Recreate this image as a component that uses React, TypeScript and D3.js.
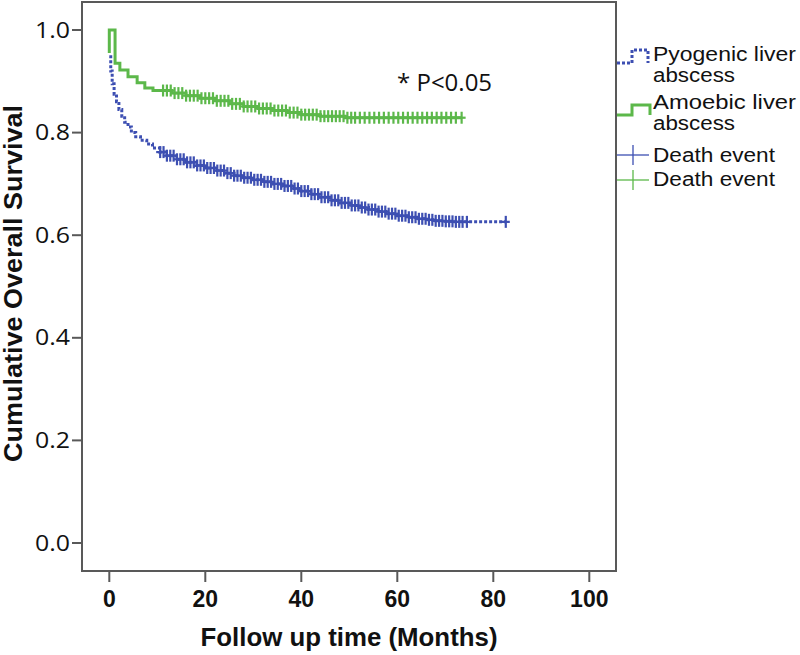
import React from "react";
import * as d3 from "d3";

// Kaplan-Meier step data (time in months, cumulative survival)
const pyoTimes = [0, 0.3, 0.6, 1.0, 1.5, 2.0, 2.6, 3.2, 3.9, 4.6, 5.5, 6.5, 7.8, 9.0, 10.5, 12, 14, 16, 18, 20, 22, 24, 26, 28, 30, 32, 34, 36, 38, 40, 42, 44, 46, 48, 50, 52, 54, 56, 58, 60, 62, 64, 66, 68, 70, 72, 82.6];
const pyoSurv = [0.948, 0.92, 0.895, 0.875, 0.86, 0.845, 0.832, 0.82, 0.811, 0.8, 0.792, 0.785, 0.778, 0.77, 0.762, 0.755, 0.748, 0.742, 0.736, 0.731, 0.726, 0.721, 0.716, 0.712, 0.708, 0.704, 0.7, 0.696, 0.691, 0.686, 0.68, 0.674, 0.668, 0.663, 0.658, 0.654, 0.65, 0.646, 0.642, 0.638, 0.635, 0.632, 0.63, 0.628, 0.627, 0.626, 0.626];

const amoTimes = [0, 0, 1.2, 2.2, 3.9, 5.8, 7.4, 9.1, 13, 16, 19, 22, 25, 28, 31, 34, 37, 40, 44, 49, 73.4];
const amoSurv = [0.955, 1.0, 0.935, 0.922, 0.909, 0.897, 0.887, 0.882, 0.877, 0.872, 0.867, 0.862, 0.856, 0.851, 0.847, 0.843, 0.839, 0.835, 0.832, 0.829, 0.829];

// censoring times (death event marks)
const pyoCensor = [10.6, 11.3, 12, 12.7, 13.4, 14.1, 14.8, 15.5, 16.2, 16.9, 17.6, 18.3, 19, 19.7, 20.4, 21.1, 21.8, 22.5, 23.2, 23.9, 24.6, 25.3, 26, 26.7, 27.4, 28.1, 28.8, 29.5, 30.2, 30.9, 31.6, 32.3, 33, 33.7, 34.4, 35.1, 35.8, 36.5, 37.2, 37.9, 38.6, 39.3, 40, 40.7, 41.4, 42.1, 42.8, 43.5, 44.2, 44.9, 45.6, 46.3, 47, 47.7, 48.4, 49.1, 49.8, 50.5, 51.2, 51.9, 52.6, 53.3, 54, 54.7, 55.4, 56.1, 56.8, 57.5, 58.2, 58.9, 59.6, 60.3, 61, 61.7, 62.4, 63.1, 63.8, 64.5, 65.2, 65.9, 66.6, 67.3, 68, 68.7, 69.4, 70.1, 70.8, 71.5, 72.2, 72.9, 73.6, 74.5, 82.6];
const amoCensor = [11.2, 12, 12.8, 13.6, 14.4, 15.2, 16, 16.8, 17.6, 18.4, 19.2, 20, 20.8, 21.6, 22.4, 23.2, 24, 24.8, 25.6, 26.4, 27.2, 28, 28.8, 29.6, 30.4, 31.2, 32, 32.8, 33.6, 34.4, 35.2, 36, 36.8, 37.6, 38.4, 39.2, 40, 40.8, 41.6, 42.4, 43.2, 44, 44.8, 45.6, 46.4, 47.2, 48, 48.8, 49.6, 50.4, 51.2, 52.2, 53.2, 54.2, 55.2, 56.2, 57.2, 58.2, 59.2, 60.2, 61.2, 62.2, 63.2, 64.2, 65.2, 66.2, 67.2, 68.2, 69.2, 70.2, 71.2, 72.2, 73.4];

const xTicks = [0, 20, 40, 60, 80, 100];
const yTicks = [0.0, 0.2, 0.4, 0.6, 0.8, 1.0];

const BLUE = "#3d4fb2";
const GREEN = "#5cb84a";
const FRAME = "#595959";

export default function App() {
  const frame = { left: 82, top: 2, right: 616, bottom: 571 };
  const x = d3.scaleLinear().domain([0, 100]).range([109.3, 589.3]);
  const y = d3.scaleLinear().domain([0, 1]).range([543, 30]);

  const line = d3
    .line<[number, number]>()
    .x((d) => x(d[0]))
    .y((d) => y(d[1]))
    .curve(d3.curveStepAfter);

  const pyoPts: [number, number][] = pyoTimes.map((t, i) => [t, pyoSurv[i]]);
  const amoPts: [number, number][] = amoTimes.map((t, i) => [t, amoSurv[i]]);

  const survAt = (times: number[], surv: number[], t: number) => {
    let v = surv[0];
    for (let i = 0; i < times.length; i++) {
      if (times[i] <= t) v = surv[i];
    }
    return v;
  };

  const cross = (cx: number, cy: number, color: string, key: string, h = 6, w = 4, sw = 2.2) => (
    <g key={key} stroke={color} strokeWidth={sw}>
      <line x1={cx} x2={cx} y1={cy - h} y2={cy + h} />
      <line x1={cx - w} x2={cx + w} y1={cy} y2={cy} />
    </g>
  );

  const legendFont = "'Liberation Sans', Arial, sans-serif";

  return (
    <svg width={800} height={655} style={{ position: "absolute", left: 0, top: 0 }}>
      <rect width={800} height={655} fill="#fff" />
      {/* frame */}
      <rect
        x={frame.left}
        y={frame.top}
        width={frame.right - frame.left}
        height={frame.bottom - frame.top}
        fill="none"
        stroke={FRAME}
        strokeWidth={2}
      />
      {/* y ticks */}
      {yTicks.map((v) => (
        <g key={"y" + v}>
          <line x1={72} x2={frame.left} y1={y(v)} y2={y(v)} stroke={FRAME} strokeWidth={2} />
          <text
            x={70}
            y={y(v) + 7.5}
            textAnchor="end"
            fontFamily="'Open Sans', sans-serif"
            fontSize={21}
            textLength={35}
            lengthAdjust="spacingAndGlyphs"
            fill="#111"
          >
            {v.toFixed(1)}
          </text>
        </g>
      ))}
      {/* x ticks */}
      {xTicks.map((v) => (
        <g key={"x" + v}>
          <line x1={x(v)} x2={x(v)} y1={frame.bottom} y2={582} stroke={FRAME} strokeWidth={2} />
          <text
            x={x(v)}
            y={607}
            textAnchor="middle"
            fontFamily="'Liberation Sans', Arial, sans-serif"
            fontWeight="bold"
            fontSize={23}
            fill="#111"
          >
            {v}
          </text>
        </g>
      ))}
      {/* axis titles */}
      <text
        x={349}
        y={646}
        textAnchor="middle"
        fontFamily="'Liberation Sans', Arial, sans-serif"
        fontWeight="bold"
        fontSize={26}
        textLength={297}
        lengthAdjust="spacingAndGlyphs"
        fill="#111"
      >
        Follow up time (Months)
      </text>
      <text
        transform="translate(22,283.5) rotate(-90)"
        textAnchor="middle"
        fontFamily="'Liberation Sans', Arial, sans-serif"
        fontWeight="bold"
        fontSize={25}
        textLength={357}
        lengthAdjust="spacingAndGlyphs"
        fill="#111"
      >
        Cumulative Overall Survival
      </text>

      {/* curves */}
      <path d={line(amoPts) || ""} fill="none" stroke={GREEN} strokeWidth={3} />
      <path d={line(pyoPts) || ""} fill="none" stroke={BLUE} strokeWidth={3} strokeDasharray="3,2" />

      {amoCensor.map((t, i) => cross(x(t), y(survAt(amoTimes, amoSurv, t)), GREEN, "ac" + i))}
      {pyoCensor.map((t, i) => cross(x(t), y(survAt(pyoTimes, pyoSurv, t)), BLUE, "pc" + i))}

      {/* annotation */}
      <text x={397} y={91} fontFamily="'Open Sans', sans-serif" fontSize={24} fill="#111">
        * P&lt;0.05
      </text>

      {/* legend */}
      <path d="M617,63 H632 V50 H648 V63" fill="none" stroke={BLUE} strokeWidth={3} strokeDasharray="3,2" />
      <path d="M617,115 H632 V105 H650 V115" fill="none" stroke={GREEN} strokeWidth={3} />
      {cross(633, 155, BLUE, "lg1", 10, 16, 1.3)}
      {cross(633, 180, GREEN, "lg2", 10, 16, 1.3)}
      <g fontFamily={legendFont} fontSize={20} fill="#111">
        <text x={653} y={61} textLength={143} lengthAdjust="spacingAndGlyphs">Pyogenic liver</text>
        <text x={653} y={81.5} textLength={82} lengthAdjust="spacingAndGlyphs">abscess</text>
        <text x={653} y={109} textLength={143} lengthAdjust="spacingAndGlyphs">Amoebic liver</text>
        <text x={653} y={130} textLength={82} lengthAdjust="spacingAndGlyphs">abscess</text>
        <text x={653} y={162} textLength={122} lengthAdjust="spacingAndGlyphs">Death event</text>
        <text x={653} y={186} textLength={122} lengthAdjust="spacingAndGlyphs">Death event</text>
      </g>
    </svg>
  );
}
